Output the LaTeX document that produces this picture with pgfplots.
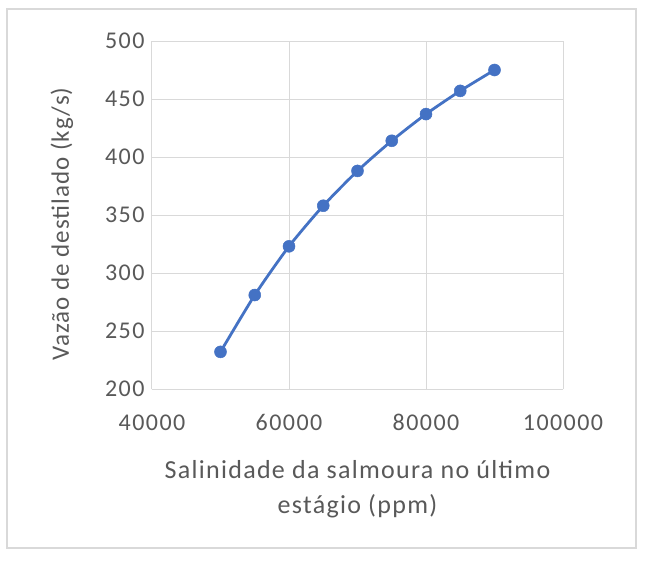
\documentclass[border=0pt]{standalone}
\usepackage{pgfplots}
\pgfplotsset{compat=1.18}
\usepackage{fontspec}
\setmainfont{Carlito}
\newfontfamily\tickfont{Carlito}[LetterSpace=6]
\newfontfamily\labfont{Carlito}[LetterSpace=5]
\newfontfamily\ylabfont{Carlito}[LetterSpace=4]
\definecolor{txtgray}{HTML}{595959}
\definecolor{gridgray}{HTML}{D9D9D9}
\definecolor{xlblue}{HTML}{4472C4}
\begin{document}
\begin{tikzpicture}[x=1pt,y=1pt]
\useasboundingbox (-152,-176) rectangle (498,389);
\fill[white] (-152,-176) rectangle (498,389);
\draw[gridgray, line width=1.2pt] (-145,-159) rectangle (484,380);
\begin{axis}[
  at={(0,0)}, anchor=south west,
  scale only axis, width=411pt, height=348pt,
  xmin=40000, xmax=100000, ymin=200, ymax=500,
  xtick={40000,60000,80000,100000},
  ytick={200,250,...,500},
  scaled x ticks=false,
  xticklabel style={/pgf/number format/fixed,/pgf/number format/1000 sep={}},
  /pgf/number format/assume math mode=true,
  grid=major,
  major grid style={gridgray, line width=1pt},
  axis line style={gridgray, line width=1pt},
  axis x line*=bottom, axis y line*=left,
  x axis line style={-}, y axis line style={-},
  tick style={draw=none},
  tick label style={font=\tickfont\fontsize{24}{27}\selectfont, text=txtgray},
  xticklabel style={yshift=-22pt},
  yticklabel style={xshift=-4pt},
  xlabel style={font=\labfont\fontsize{26}{35}\selectfont, text=txtgray, align=center, yshift=-22pt},
  xlabel={Salinidade da salmoura no último\\estágio (ppm)},
  ylabel={Vazão de destilado (kg/s)},
  ylabel style={font=\ylabfont\fontsize{25}{30}\selectfont, text=txtgray, yshift=25pt, xshift=-9pt},
]
\addplot[xlblue, line width=2.8pt, smooth, tension=0.4, mark=*, mark size=6pt, mark options={fill=xlblue, draw=xlblue, line width=0.5pt}]
coordinates {
(50000,232) (55000,281) (60000,323) (65000,358) (70000,388)
(75000,414) (80000,437) (85000,457) (90000,475)
};
\end{axis}
\end{tikzpicture}
\end{document}
